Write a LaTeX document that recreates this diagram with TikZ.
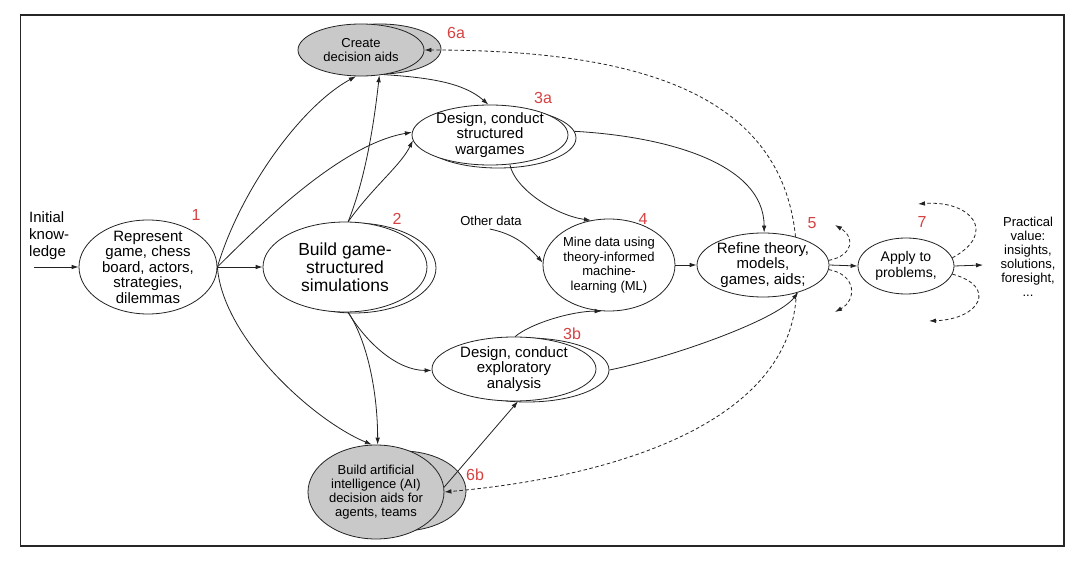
\documentclass[tikz,border=0pt]{standalone}
\usepackage{fontspec}
\setmainfont{Liberation Sans}
\usetikzlibrary{shapes.geometric,arrows.meta}
\definecolor{lbl}{RGB}{214,66,66}
\definecolor{aidfill}{RGB}{201,201,201}
\definecolor{ink}{RGB}{35,35,35}
\begin{document}
\begin{tikzpicture}[x=1pt,y=-1pt,
  es/.style 2 args={minimum width=#1pt, minimum height=#2pt},
  ell/.style={draw=ink, line width=0.8pt, ellipse, inner sep=0pt, fill=white},
  aid/.style={ell, fill=aidfill},
  conn/.style={draw=ink, line width=0.8pt, -{Latex[length=7pt,width=4.6pt]}},
  dconn/.style={conn, dash pattern=on 3.5pt off 2.5pt},
  num/.style={text=lbl, font=\fontsize{16}{16}\selectfont, inner sep=0pt},
  fA/.style={font=\fontsize{15}{15.5}\selectfont, align=center, inner sep=0pt},
  fB/.style={font=\fontsize{17.5}{18}\selectfont, align=center, inner sep=0pt},
  fC/.style={font=\fontsize{13}{14}\selectfont, align=center, inner sep=0pt},
  fD/.style={font=\fontsize{13}{14.5}\selectfont, align=center, inner sep=0pt},
  fE/.style={font=\fontsize{14}{16}\selectfont, align=center, inner sep=0pt}
]
\useasboundingbox (0,0) rectangle (1080,564);
\fill[white] (0,0) rectangle (1080,564);
\draw[line width=1.4pt, draw=black!85] (20.5,15) rectangle (1064,546);

% shadows
\node[aid, es={122}{50}] (n6as) at (380,49) {};
\node[ell, es={164}{90}] (n2s) at (354,268) {};
\node[ell, es={156}{60}] (n3as) at (498,138) {};
\node[ell, es={164}{64}] (n3bs) at (527,370) {};
\node[aid, es={128}{80}] (n6bs) at (402,491) {};

% main nodes
\node[ell, es={138}{94}, label={[fA]center:{Represent\\game, chess\\board, actors,\\strategies,\\dilemmas}}] (n1) at (148,267) {};
\node[ell, es={164}{90}, label={[fB]center:{Build game-\\structured\\simulations}}] (n2) at (345,267) {};
\node[aid, es={126}{52}, label={[fC]center:{Create\\decision aids}}] (n6a) at (361,50) {};
\node[ell, es={156}{60}, label={[fA]center:{Design, conduct\\structured\\wargames}}] (n3a) at (490,135) {};
\node[ell, es={132}{92}, label={[fD]center:{Mine data using\\theory-informed\\machine-\\learning (ML)}}] (n4) at (609,265) {};
\node[ell, es={164}{64}, label={[fA]center:{Design, conduct\\exploratory\\analysis}}] (n3b) at (514,369) {};
\node[ell, es={132}{64}, label={[fA]center:{Refine theory,\\models,\\games, aids;}}] (n5) at (763,265) {};
\node[ell, es={96}{56}, label={[fE]center:{Apply to\\problems,}}] (n7) at (906,266) {};
\node[aid, es={136}{94}, label={[fC]center:{Build artificial\\intelligence (AI)\\decision aids for\\agents, teams}}] (n6b) at (376,492) {};

% free texts
\node[font=\fontsize{15}{17}\selectfont, align=left, anchor=west, inner sep=0pt] (ik0) at (29,236) {Initial\\know-\\ledge};
\node[fC, inner sep=3pt] (od) at (491,221) {Other data};
\node[fC] (pv) at (1028,257) {Practical\\value:\\insights,\\solutions,\\foresight,\\...};

% red labels
\node[num] (k1) at (196,215) {1};
\node[num] (k2) at (397,219) {2};
\node[num] (k6a) at (456,33) {6a};
\node[num] (k3a) at (543,98) {3a};
\node[num] (k4) at (643,219) {4};
\node[num] (k5) at (812,223) {5};
\node[num] (k7) at (922,222) {7};
\node[num] (k3b) at (572,334) {3b};
\node[num] (k6b) at (475,475) {6b};

% free ends
\coordinate (ik) at (34,267);
\coordinate (pvin) at (983,265);
\coordinate (l5u) at (835,225);
\coordinate (l5d) at (835,312);
\coordinate (l7u) at (918,204);
\coordinate (l7d) at (929,321);

% connectors
\draw[conn] (ik) -- (n1.west);
\draw[conn] (n1.east) -- (n2.west);
\draw[conn] (n1.east) .. controls +(23,-77) and +(-55,30) .. (n6a.-101);
\draw[conn] (n1.east) .. controls +(45,-45) and +(-70,12) .. (n3a.178);
\draw[conn] (n1.east) .. controls +(5,70) and +(-60,-25) .. (n6b.95);
\draw[conn] (n2.86) .. controls +(18,-45) and +(-5,45) .. (n6a.-54);
\draw[conn] (n2.86) .. controls +(25,-35) and +(-12,25) .. (n3a.184);
\draw[conn] (n6a.-47) .. controls +(45,3) and +(-25,-22) .. (n3a.93);
\draw[conn] (n2.-86) .. controls +(20,30) and +(0,-50) .. (n6b.88);
\draw[conn] (n2.-86) .. controls +(18,30) and +(-35,0) .. (n3b.181);
\draw[conn] (n3as.5) .. controls +(90,5) and +(0,-70) .. (n5.88);
\draw[conn] (n3a.-56) .. controls +(5,25) and +(-35,-5) .. (n4.112);
\draw[conn] (od.-100) .. controls +(25,5) and +(-15,-17) .. (n4.178);
\draw[conn] (n4.east) -- (n5.west);
\draw[conn] (n3b.88) .. controls +(15,-13) and +(-30,0) .. (n4.-99);
\draw[conn] (n3bs.east) .. controls +(60,-12) and +(-22,28) .. (n5.-38);
\draw[conn] (n6b.4) -- (n3b.-83);
\draw[conn] (n5.east) -- (n7.west);
\draw[conn] (n7.east) -- (pvin);
\draw[dconn] (n5.41) .. controls +(-15,-150) and +(200,0) .. (n6a.east);
\draw[dconn] (n5.-40) .. controls +(-5,130) and +(170,-15) .. (n6b.east);
\draw[dconn] (n5.4) .. controls +(25,-5) and +(20,12) .. (l5u);
\draw[dconn] (n5.-4) .. controls +(28,5) and +(22,-12) .. (l5d);
\draw[dconn] (n7.10) .. controls +(46,-25) and +(53,-4) .. (l7u);
\draw[dconn] (n7.-10) .. controls +(45,12) and +(52,-2) .. (l7d);
\end{tikzpicture}
\end{document}
